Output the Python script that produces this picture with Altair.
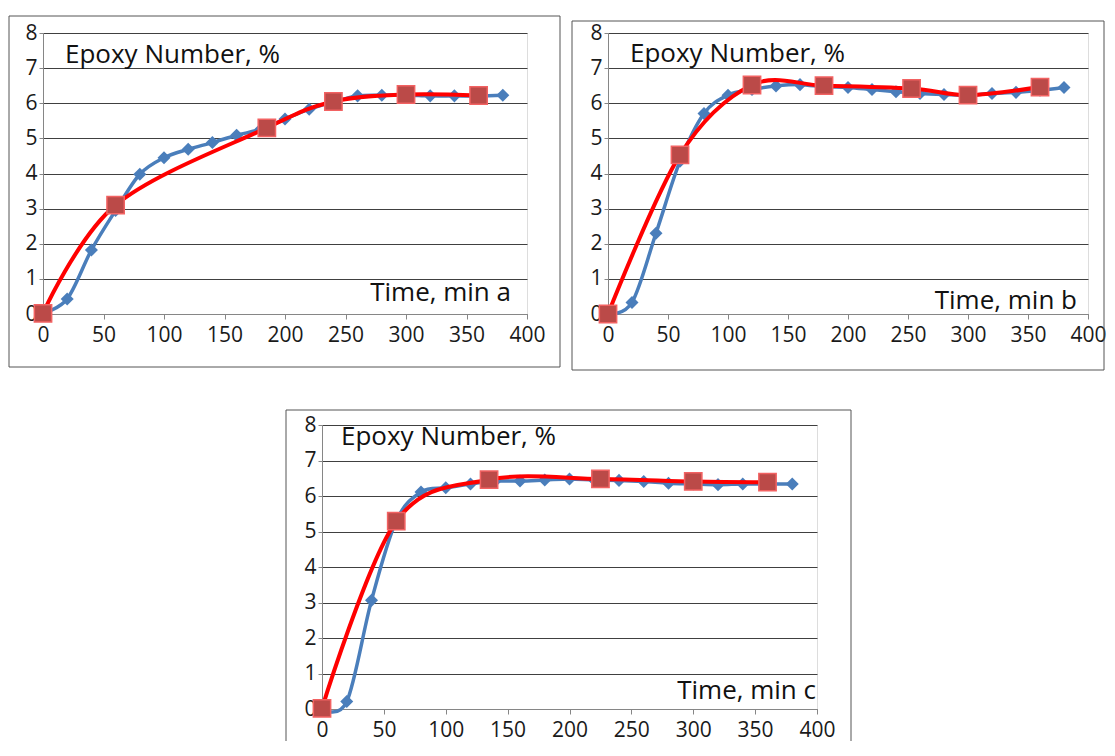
import altair as alt
import pandas as pd

# ---- data ----
time_blue = [0, 20, 40, 60, 80, 100, 120, 140, 160, 180, 200, 220, 240, 260, 280, 300, 320, 340, 360, 380]

a_blue = [0.03, 0.43, 1.82, 2.95, 3.98, 4.45, 4.69, 4.88, 5.09, 5.26, 5.55, 5.83, 6.04, 6.21, 6.23, 6.23, 6.21, 6.21, 6.21, 6.23]
a_red_t = [0, 60, 185, 240, 300, 360]
a_red = [0.02, 3.1, 5.3, 6.05, 6.25, 6.22]

b_blue = [0.0, 0.33, 2.30, 4.35, 5.71, 6.23, 6.39, 6.49, 6.53, 6.47, 6.45, 6.39, 6.33, 6.28, 6.25, 6.23, 6.28, 6.31, 6.37, 6.45]
b_red_t = [0, 60, 120, 180, 253, 300, 360]
b_red = [0.0, 4.53, 6.52, 6.5, 6.42, 6.23, 6.46]

c_blue = [0.0, 0.21, 3.06, 5.3, 6.11, 6.23, 6.34, 6.42, 6.42, 6.45, 6.48, 6.45, 6.44, 6.41, 6.36, 6.34, 6.32, 6.34, 6.34, 6.34]
c_red_t = [0, 60, 135, 225, 300, 360]
c_red = [0.02, 5.29, 6.46, 6.48, 6.41, 6.39]

x_ticks = [0, 50, 100, 150, 200, 250, 300, 350, 400]
y_ticks = [0, 1, 2, 3, 4, 5, 6, 7, 8]

title_text = "Epoxy Number, %"
time_texts = ["Time, min a", "Time, min b", "Time, min c"]

BLUE = "#4a7ebb"
RED = "#ff0000"
FONT = "Open Sans"
FRAME = "#555555"
one = pd.DataFrame({"k": [0]})


def panel(t, blue, rt, red, W, H, box, title_xy, time_xy, time_text, open_bottom=False):
    df_b = pd.DataFrame({"t": t, "v": blue})
    df_r = pd.DataFrame({"t": rt, "v": red})

    xaxis = alt.Axis(values=x_ticks, grid=False, title=None, domainColor="#868686",
                     tickColor="#868686", tickSize=5, labelFontSize=21, labelFont=FONT,
                     labelColor="#1a1a1a", labelPadding=5, labelFlush=False, labelOverlap=False)
    yaxis = alt.Axis(values=y_ticks, grid=True, gridColor="#404040", gridWidth=1,
                     title=None, domainColor="#868686", tickColor="#868686", tickSize=4,
                     labelFontSize=21, labelFont=FONT, labelColor="#1a1a1a", labelPadding=2,
                     labelFlush=False, labelOverlap=False)
    xs = alt.Scale(domain=[0, 400], nice=False)
    ys = alt.Scale(domain=[0, 8], nice=False)
    X = alt.X("t:Q", scale=xs, axis=xaxis)
    Y = alt.Y("v:Q", scale=ys, axis=yaxis)

    blue_line = alt.Chart(df_b).mark_line(color=BLUE, strokeWidth=3.5, interpolate="cardinal").encode(x=X, y=Y)
    blue_pts = alt.Chart(df_b).mark_point(shape="diamond", filled=True, size=170, color=BLUE,
                                          opacity=1).encode(x=X, y=Y)
    red_line = alt.Chart(df_r).mark_line(color=RED, strokeWidth=4, interpolate="cardinal").encode(x=X, y=Y)
    red_pts = alt.Chart(df_r).mark_point(shape="square", filled=True, size=300, fill="#bb4a48",
                                         stroke="#f26262", strokeWidth=1.5, opacity=1).encode(x=X, y=Y)

    frames = []
    if open_bottom:
        for (x1, x2, y1, y2) in [(box[0], box[0], box[2], box[3]), (box[1], box[1], box[2], box[3]),
                                 (box[0], box[1], box[2], box[2])]:
            frames.append(alt.Chart(one).mark_rule(color=FRAME, strokeWidth=1).encode(
                x=alt.value(x1), x2=alt.value(x2), y=alt.value(y1), y2=alt.value(y2)))
    else:
        frames.append(alt.Chart(one).mark_rect(fillOpacity=0, stroke=FRAME, strokeWidth=1).encode(
            x=alt.value(box[0]), x2=alt.value(box[1]), y=alt.value(box[2]), y2=alt.value(box[3])))

    ttl = alt.Chart(one).mark_text(font=FONT, fontSize=26, align="left", baseline="alphabetic",
                                   color="#111111").encode(
        x=alt.value(title_xy[0]), y=alt.value(title_xy[1]), text=alt.value(title_text))
    tm = alt.Chart(one).mark_text(font=FONT, fontSize=26, align="right", baseline="alphabetic",
                                  color="#111111").encode(
        x=alt.value(time_xy[0]), y=alt.value(time_xy[1]), text=alt.value(time_text))

    return alt.layer(blue_line, blue_pts, red_line, red_pts, *frames, ttl, tm).properties(
        width=W, height=H)


pa = panel(time_blue, a_blue, a_red_t, a_red, 484, 281,
           (-34, 517, -17, 334), (22, 30), (468, 268), time_texts[0])
pb = panel(time_blue, b_blue, b_red_t, b_red, 480, 281,
           (-36, 496, -12, 337), (22, 29), (469, 276), time_texts[1])
pc = panel(time_blue, c_blue, c_red_t, c_red, 495, 284,
           (-36, 529, -15, 316), (19, 20), (494, 274), time_texts[2], open_bottom=True)

spacer = alt.Chart(one).mark_point(opacity=0, size=1).encode(
    x=alt.value(0), y=alt.value(0)
).properties(width=232, height=10, view=alt.ViewBackground(strokeOpacity=0, fillOpacity=0))

chart = alt.vconcat(
    alt.hconcat(pa, pb, spacing=10),
    alt.hconcat(spacer, pc, spacing=10),
    spacing=38,
).properties(
    padding={"left": 0, "top": 7, "right": 0, "bottom": 0}
).configure_view(stroke="#c0c0c0", strokeWidth=1).configure(background="white")

chart.save("out.html", embed_options={"renderer": "svg", "actions": False})
